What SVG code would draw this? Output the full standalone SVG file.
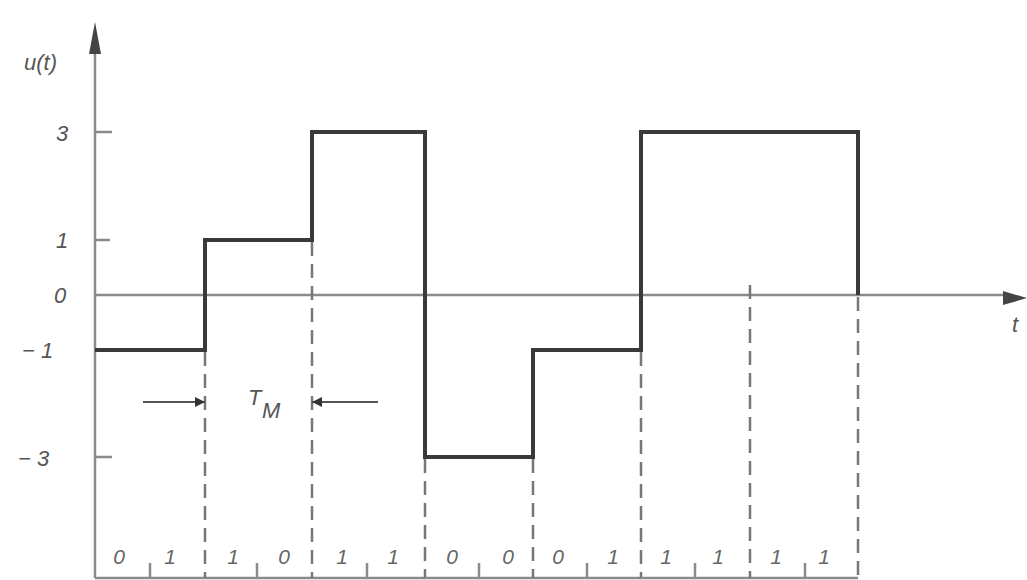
<svg xmlns="http://www.w3.org/2000/svg" width="1027" height="580" viewBox="0 0 1027 580">
<defs>
<style>
.axis{stroke:#8a8a8a;stroke-width:2.5;fill:none}
.tick{stroke:#8a8a8a;stroke-width:2.5;fill:none}
.sig{stroke:#3a3a3a;stroke-width:4;fill:none;stroke-linejoin:miter}
.dash{stroke:#777;stroke-width:2.5;stroke-dasharray:14,8;fill:none}
.dim{stroke:#555;stroke-width:1.8;fill:none}
.lbl{font-family:"Liberation Sans",Arial,sans-serif;font-style:italic;font-size:22px;fill:#555}
.bit{font-family:"Liberation Sans",Arial,sans-serif;font-style:italic;font-size:21px;fill:#666;text-anchor:middle}
</style>
<marker id="ah" viewBox="0 0 10 10" refX="10" refY="5" markerWidth="10" markerHeight="10" markerUnits="userSpaceOnUse" orient="auto">
<path d="M0,0 L10,5 L0,10 z" fill="#333"/>
</marker>
</defs>
<rect width="1027" height="580" fill="#ffffff"/>
<g id="axes">
<line class="axis" x1="95" y1="578" x2="95" y2="50"/>
<path d="M95,22 L101,54 L89,54 z" fill="#444"/>
<line class="axis" x1="95" y1="295" x2="1005" y2="295"/>
<path d="M1027,298 L1003,291 L1003,305 z" fill="#444"/>
<line class="axis" x1="95" y1="578" x2="858" y2="578"/>
<line class="tick" x1="95" y1="132" x2="112" y2="132"/>
<line class="tick" x1="95" y1="240" x2="110" y2="240"/>
<line class="tick" x1="95" y1="457" x2="112" y2="457"/>
</g>
<g id="axis-labels">
<text class="lbl" x="24" y="70">u(t)</text>
<text class="lbl" x="56" y="141">3</text>
<text class="lbl" x="56" y="248">1</text>
<text class="lbl" x="54" y="303">0</text>
<text class="lbl" x="22" y="358">− 1</text>
<text class="lbl" x="18" y="466">− 3</text>
<text class="lbl" x="1012" y="332">t</text>
</g>
<g id="connectors">
<line class="dash" x1="205" y1="352" x2="205" y2="578"/>
<line class="dash" x1="312" y1="242" x2="312" y2="578"/>
<line class="dash" x1="425" y1="459" x2="425" y2="578"/>
<line class="dash" x1="533" y1="459" x2="533" y2="578"/>
<line class="dash" x1="641" y1="352" x2="641" y2="578"/>
<line class="dash" x1="750" y1="285" x2="750" y2="578"/>
<line class="dash" x1="858" y1="297" x2="858" y2="578"/>
<g id="bit-ticks">
<line class="tick" x1="150" y1="563" x2="150" y2="578"/>
<line class="tick" x1="257" y1="563" x2="257" y2="578"/>
<line class="tick" x1="367" y1="563" x2="367" y2="578"/>
<line class="tick" x1="479" y1="563" x2="479" y2="578"/>
<line class="tick" x1="587" y1="563" x2="587" y2="578"/>
<line class="tick" x1="695" y1="563" x2="695" y2="578"/>
<line class="tick" x1="805" y1="563" x2="805" y2="578"/>
</g>
<line class="dim" x1="143" y1="402" x2="205" y2="402" marker-end="url(#ah)"/>
<line class="dim" x1="378" y1="402" x2="312" y2="402" marker-end="url(#ah)"/>
</g>
<g id="signal">
<polyline class="sig" points="95,350 205,350 205,240 312,240 312,132 425,132 425,457 533,457 533,350 641,350 641,132 858,132 858,295"/>
</g>
<g id="tm-label">
<text class="lbl" x="248" y="405">T</text>
<text class="lbl" x="262" y="418" font-size="15">M</text>
</g>
<g id="bits">
<text class="bit" x="119" y="564">0</text>
<text class="bit" x="170" y="564">1</text>
<text class="bit" x="233" y="564">1</text>
<text class="bit" x="284" y="564">0</text>
<text class="bit" x="342" y="564">1</text>
<text class="bit" x="393" y="564">1</text>
<text class="bit" x="452" y="564">0</text>
<text class="bit" x="508" y="564">0</text>
<text class="bit" x="558" y="564">0</text>
<text class="bit" x="613" y="564">1</text>
<text class="bit" x="666" y="564">1</text>
<text class="bit" x="718" y="564">1</text>
<text class="bit" x="776" y="564">1</text>
<text class="bit" x="824" y="564">1</text>
</g>
</svg>
